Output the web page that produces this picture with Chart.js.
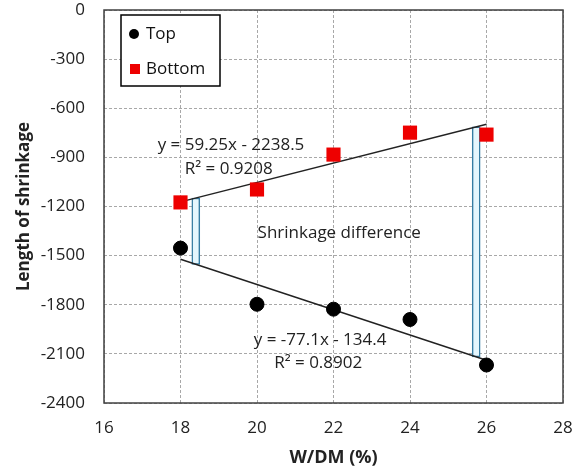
<!DOCTYPE html>
<html>
<head>
<meta charset="utf-8">
<script src="https://cdn.jsdelivr.net/npm/chart.js@4.4.1/dist/chart.umd.min.js"></script>
<style>
  html, body { margin: 0; padding: 0; background: #fff; }
  #wrap { width: 579px; height: 472px; }
</style>
</head>
<body>
<div id="wrap"><canvas id="shrinkChart"></canvas></div>
<script>
// W/DM ratio (%) and measured shrinkage lengths
const wdm = [18, 20, 22, 24, 26];
const topShrink = [-1454, -1797, -1827, -1890, -2168];
const bottomShrink = [-1175, -1096, -883, -749, -761];

// linear fits [slope, intercept, R²]
const topFit = [-77.1, -134.4, 0.8902];
const bottomFit = [59.25, -2238.5, 0.9208];
const fitRange = [18, 26];

// W/DM positions where the gap between the two fits is marked
const gapAt = [18.4, 25.73];

const xTicks = [16, 18, 20, 22, 24, 26, 28];
const yTicks = [0, -300, -600, -900, -1200, -1500, -1800, -2100, -2400];

const FONT = "'Open Sans', sans-serif";

function fitLine(fit) {
    return fitRange.map(x => ({ x: x, y: fit[0] * x + fit[1] }));
}

function fmtEq(fit) {
    const b = fit[1] < 0 ? ' - ' + Math.abs(fit[1]) : ' + ' + fit[1];
    return 'y = ' + fit[0] + 'x' + b;
}

const gapBars = gapAt.map(x => ({
    x: x,
    y: [topFit[0] * x + topFit[1], bottomFit[0] * x + bottomFit[1]]
}));

// plot frame, fit labels and boxed legend
const decorations = {
    id: 'decorations',
    afterDatasetsDraw(chart) {
        const { ctx, chartArea: a, scales: { x, y } } = chart;
        ctx.save();
        ctx.strokeStyle = '#404040';
        ctx.lineWidth = 1.5;
        ctx.strokeRect(a.left, a.top, a.right - a.left, a.bottom - a.top);

        ctx.fillStyle = '#222';
        ctx.font = '17px ' + FONT;
        ctx.textAlign = 'center';
        ctx.textBaseline = 'middle';
        const labels = [
            [fmtEq(bottomFit), 19.32, -825],
            ['R\u00b2 = ' + bottomFit[2], 19.26, -970],
            ['Shrinkage difference', 22.15, -1365],
            [fmtEq(topFit), 21.65, -2015],
            ['R\u00b2 = ' + topFit[2], 21.6, -2155]
        ];
        labels.forEach(([t, vx, vy]) => ctx.fillText(t, x.getPixelForValue(vx), y.getPixelForValue(vy)));

        // legend box
        const lx = a.left + 17, ly = a.top + 5, lw = 99, lh = 71;
        ctx.fillStyle = '#fff';
        ctx.fillRect(lx, ly, lw, lh);
        ctx.strokeStyle = '#000';
        ctx.lineWidth = 1.5;
        ctx.strokeRect(lx, ly, lw, lh);
        ctx.font = '17px ' + FONT;
        ctx.textAlign = 'left';
        const items = chart.data.datasets.filter(d => d.inLegend);
        items.forEach((d, i) => {
            const cy = ly + 19 + i * 35;
            const cx = lx + 14;
            ctx.fillStyle = d.backgroundColor;
            ctx.beginPath();
            if (d.pointStyle === 'rect') {
                ctx.rect(cx - 5, cy - 5, 10, 10);
            } else {
                ctx.arc(cx - 1, cy, 5, 0, Math.PI * 2);
            }
            ctx.fill();
            ctx.fillStyle = '#111';
            ctx.fillText(d.label, lx + 25, cy);
        });
        ctx.restore();
    }
};

new Chart(document.getElementById('shrinkChart'), {
    type: 'scatter',
    data: {
        datasets: [
            {
                label: 'Top',
                inLegend: true,
                data: wdm.map((x, i) => ({ x: x, y: topShrink[i] })),
                pointStyle: 'circle',
                pointRadius: 7,
                pointHoverRadius: 7,
                backgroundColor: '#000',
                borderColor: '#000',
                order: 0
            },
            {
                label: 'Bottom',
                inLegend: true,
                data: wdm.map((x, i) => ({ x: x, y: bottomShrink[i] })),
                pointStyle: 'rect',
                pointRadius: 10,
                pointHoverRadius: 10,
                borderWidth: 0,
                backgroundColor: '#ee0000',
                borderColor: '#ee0000',
                order: 0
            },
            {
                label: 'Top fit',
                data: fitLine(topFit),
                showLine: true,
                pointRadius: 0,
                borderColor: '#222',
                borderWidth: 1.4,
                order: 1
            },
            {
                label: 'Bottom fit',
                data: fitLine(bottomFit),
                showLine: true,
                pointRadius: 0,
                borderColor: '#222',
                borderWidth: 1.4,
                order: 1
            },
            {
                type: 'bar',
                label: 'Difference',
                data: gapBars,
                barThickness: 8,
                backgroundColor: '#e4f6fd',
                borderColor: '#357ca3',
                borderWidth: 1.5,
                borderSkipped: false,
                order: 2
            }
        ]
    },
    options: {
        responsive: true,
        maintainAspectRatio: false,
        animation: false,
        layout: { padding: { top: 9, right: 16, left: 0, bottom: 0 } },
        plugins: {
            legend: { display: false },
            tooltip: { enabled: false }
        },
        scales: {
            x: {
                type: 'linear',
                min: 16,
                max: 28,
                offset: false,
                afterBuildTicks: s => { s.ticks = xTicks.map(v => ({ value: v })); },
                afterFit: s => { s.height = 69; s.paddingLeft = 0; s.paddingRight = 0; },
                grid: { color: '#a8a8a8', drawTicks: false, offset: false },
                border: { display: false, dash: [3, 2] },
                ticks: { color: '#222', padding: 15, font: { family: FONT, size: 17 }, callback: v => String(v) },
                title: {
                    display: true,
                    text: 'W/DM (%)',
                    color: '#222',
                    padding: { top: 0, bottom: 3 },
                    font: { family: FONT, size: 18, weight: 'bold' }
                }
            },
            y: {
                min: -2400,
                max: 0,
                afterBuildTicks: s => { s.ticks = yTicks.map(v => ({ value: v })); },
                afterFit: s => { s.width = 104; s.paddingTop = 0; s.paddingBottom = 0; },
                grid: { color: '#a8a8a8', drawTicks: false },
                border: { display: false, dash: [3, 2] },
                ticks: { color: '#222', padding: 19, font: { family: FONT, size: 17 }, callback: v => String(v) },
                title: {
                    display: true,
                    text: 'Length of shrinkage',
                    color: '#222',
                    padding: { top: 14, bottom: 0 },
                    font: { family: FONT, size: 17, weight: 'bold' }
                }
            }
        }
    },
    plugins: [decorations]
});
</script>
</body>
</html>
